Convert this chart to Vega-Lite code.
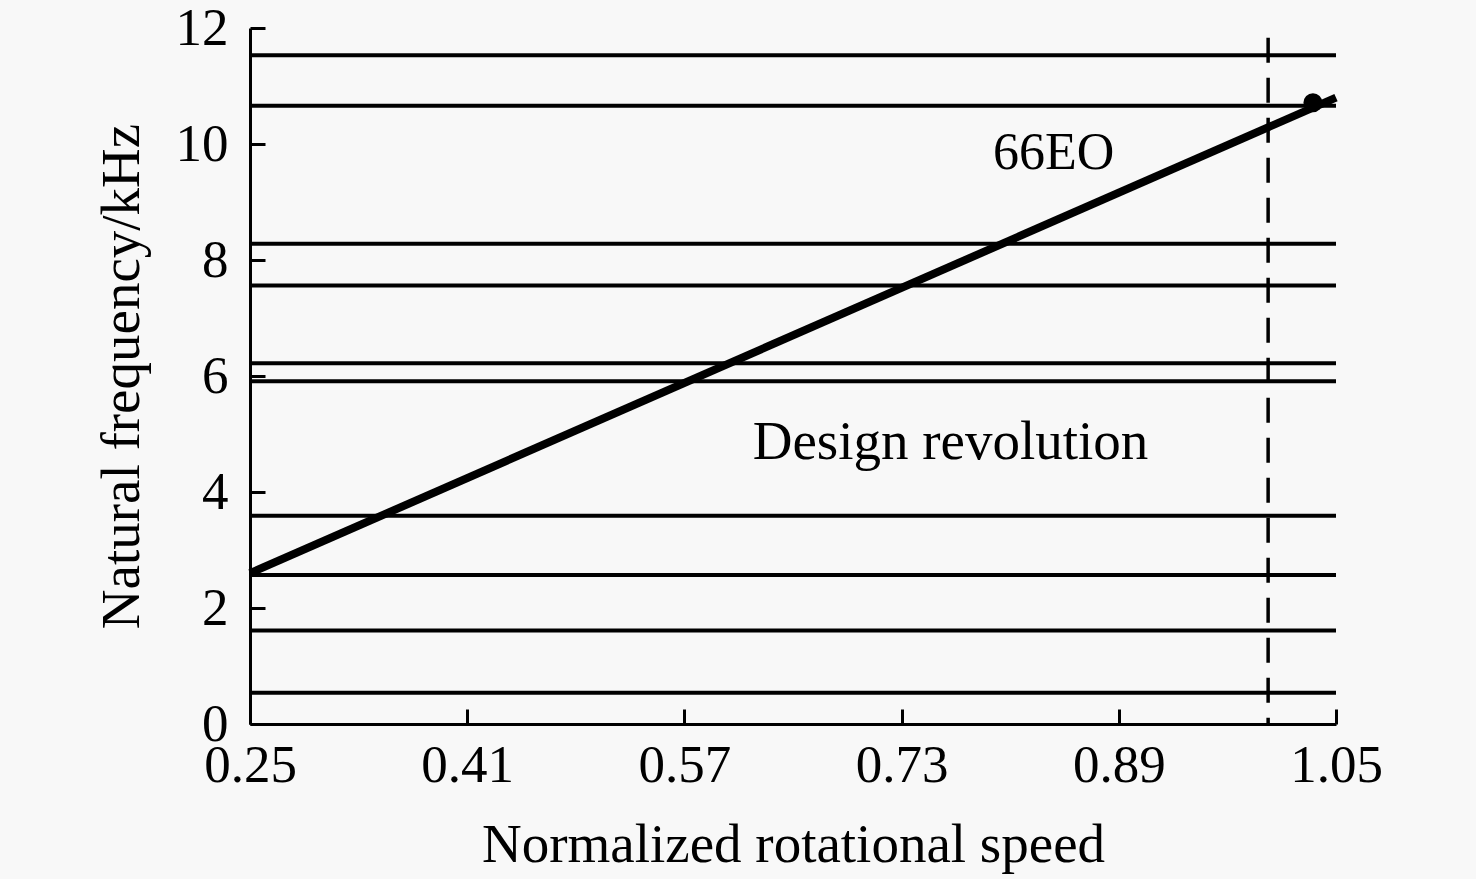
{
  "$schema": "https://vega.github.io/schema/vega-lite/v6.json",
  "autosize": "none",
  "width": 1086,
  "height": 696,
  "padding": {"left": 250, "top": 28, "right": 140, "bottom": 155},
  "background": "#f8f8f8",
  "config": {
    "view": {"stroke": null},
    "font": "Liberation Serif",
    "axis": {
      "domainColor": "black",
      "domainWidth": 3,
      "tickColor": "black",
      "tickWidth": 3,
      "tickSize": -15,
      "grid": false,
      "labelFont": "Liberation Serif",
      "labelFontSize": 53,
      "labelColor": "black",
      "labelFlush": false,
      "labelOverlap": false,
      "titleFont": "Liberation Serif",
      "titleFontSize": 55,
      "titleFontWeight": "normal",
      "titleColor": "black"
    }
  },
  "datasets": {
    "modes": [
      {"freq": 11.53},
      {"freq": 10.66},
      {"freq": 8.28},
      {"freq": 7.56},
      {"freq": 6.22},
      {"freq": 5.91},
      {"freq": 3.59},
      {"freq": 2.57},
      {"freq": 1.61},
      {"freq": 0.54}
    ],
    "eo": [
      {"speed": 0.25, "freq": 2.6},
      {"speed": 1.05, "freq": 10.8}
    ],
    "design": [
      {"speed": 1.0, "top": 11.83, "bottom": 0}
    ],
    "marker": [
      {"speed": 1.033, "freq": 10.71}
    ],
    "labels": [
      {"speed": 0.842, "freq": 9.57, "text": "66EO", "size": 52},
      {"speed": 0.766, "freq": 4.57, "text": "Design revolution", "size": 55}
    ]
  },
  "layer": [
    {
      "data": {"name": "modes"},
      "mark": {"type": "rule", "color": "black", "strokeWidth": 4},
      "encoding": {
        "y": {
          "field": "freq",
          "type": "quantitative",
          "scale": {"domain": [0, 12], "nice": false},
          "axis": {
            "title": "Natural frequency/kHz",
            "values": [0, 2, 4, 6, 8, 10, 12],
            "format": "d",
            "labelPadding": 37,
            "titlePadding": 25
          }
        }
      }
    },
    {
      "data": {"name": "eo"},
      "mark": {"type": "line", "color": "black", "strokeWidth": 8},
      "encoding": {
        "x": {
          "field": "speed",
          "type": "quantitative",
          "scale": {"domain": [0.25, 1.05], "nice": false, "zero": false},
          "axis": {
            "title": "Normalized rotational speed",
            "values": [0.25, 0.41, 0.57, 0.73, 0.89, 1.05],
            "format": ".2f",
            "labelPadding": 30,
            "titlePadding": 26
          }
        },
        "y": {"field": "freq", "type": "quantitative"}
      }
    },
    {
      "data": {"name": "design"},
      "mark": {"type": "rule", "color": "black", "strokeWidth": 3.5, "strokeDash": [25, 15]},
      "encoding": {
        "x": {"field": "speed", "type": "quantitative"},
        "y": {"field": "top", "type": "quantitative"},
        "y2": {"field": "bottom"}
      }
    },
    {
      "data": {"name": "marker"},
      "mark": {"type": "point", "filled": true, "color": "black", "size": 360, "opacity": 1},
      "encoding": {
        "x": {"field": "speed", "type": "quantitative"},
        "y": {"field": "freq", "type": "quantitative"}
      }
    },
    {
      "data": {"name": "labels"},
      "mark": {"type": "text", "color": "black", "font": "Liberation Serif", "align": "center", "baseline": "alphabetic"},
      "encoding": {
        "x": {"field": "speed", "type": "quantitative"},
        "y": {"field": "freq", "type": "quantitative"},
        "text": {"field": "text"},
        "size": {"field": "size", "type": "quantitative", "scale": null}
      }
    }
  ]
}
